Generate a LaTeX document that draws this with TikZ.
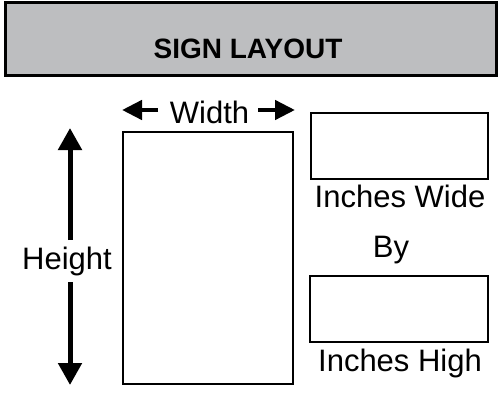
\documentclass[tikz,border=0pt]{standalone}
\usepackage{fontspec}
\setmainfont{Liberation Sans}
\usetikzlibrary{arrows.meta}
\tikzset{
  box/.style={draw=black, line width=2.4pt, fill=white, inner sep=0pt, outer sep=0pt},
  lbl/.style={font=\fontsize{31}{31}\selectfont, inner sep=0pt, anchor=base},
  bigarrow/.style={line width=5pt, -{Triangle[length=22pt,width=23pt]}},
  smallarrow/.style={line width=4.5pt, -{Triangle[length=20pt,width=19pt]}}
}
\begin{document}
\begin{tikzpicture}[x=1pt,y=-1pt]
\useasboundingbox (0,0) rectangle (498,396);
% header
\node[box, fill={rgb,255:red,189;green,190;blue,192}, minimum width=491pt, minimum height=73pt, anchor=north west] (header) at (5.5,2.5) {};
\node[font=\bfseries\fontsize{28}{28}\selectfont, inner sep=0pt, anchor=base] (title) at (248,59) {SIGN LAYOUT};
% main sign rectangle
\node[box, minimum width=170pt, minimum height=252pt, anchor=north west] (sign) at (123,132) {};
% small boxes
\node[box, minimum width=177pt, minimum height=66pt, anchor=north west] (wbox) at (311,113) {};
\node[box, minimum width=178pt, minimum height=66pt, anchor=north west] (hbox) at (310,276) {};
% labels
\node[lbl] (width) at (209.5,123) {Width};
\node[lbl] (wide) at (400,207) {Inches Wide};
\node[lbl] (by) at (391,257) {By};
\node[lbl] (high) at (400,371) {Inches High};
\node[lbl] (height) at (67,269) {Height};
% arrows
\coordinate (wl0) at (158,110);
\coordinate (wl1) at (122,110);
\coordinate (wr0) at (258,110);
\coordinate (wr1) at (295,110);
\coordinate (hu0) at (70,240);
\coordinate (hu1) at (70,128);
\coordinate (hd0) at (70,282);
\coordinate (hd1) at (70,385);
\draw[smallarrow] (wl0) -- (wl1);
\draw[smallarrow] (wr0) -- (wr1);
\draw[bigarrow] (hu0) -- (hu1);
\draw[bigarrow] (hd0) -- (hd1);
\end{tikzpicture}
\end{document}
